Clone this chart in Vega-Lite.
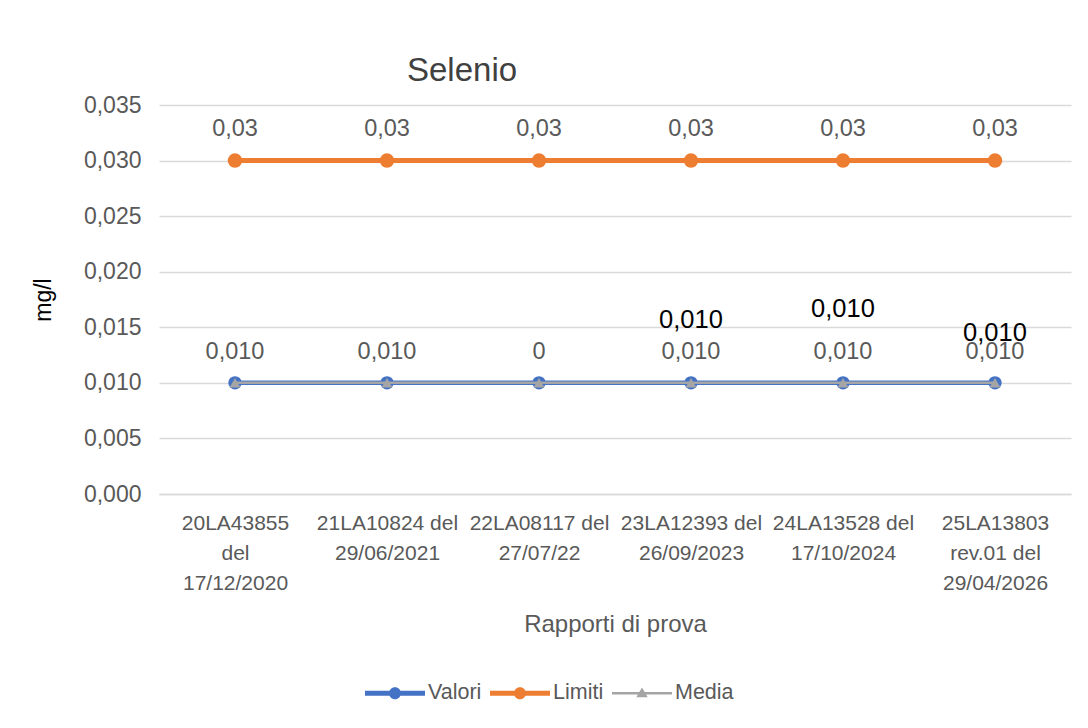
{
  "$schema": "https://vega.github.io/schema/vega-lite/v6.json",
  "width": 912,
  "height": 389,
  "autosize": "none",
  "padding": {"left": 159, "top": 105, "right": 17, "bottom": 234},
  "background": "white",
  "config": {"view": {"stroke": null}, "font": "Liberation Sans"},
  "title": {"text": "Selenio", "anchor": "start", "frame": "group", "dx": 248, "offset": 6, "fontSize": 33, "fontWeight": "normal", "color": "#404040", "font": "Liberation Sans"},
  "data": {"values": [
    {"rapporto": "20LA43855|del|17/12/2020", "serie": "Valori", "valore": 0.01, "etichetta": "0,010"},
    {"rapporto": "21LA10824 del|29/06/2021", "serie": "Valori", "valore": 0.01, "etichetta": "0,010"},
    {"rapporto": "22LA08117 del|27/07/22", "serie": "Valori", "valore": 0.01, "etichetta": "0"},
    {"rapporto": "23LA12393 del|26/09/2023", "serie": "Valori", "valore": 0.01, "etichetta": "0,010"},
    {"rapporto": "24LA13528 del|17/10/2024", "serie": "Valori", "valore": 0.01, "etichetta": "0,010"},
    {"rapporto": "25LA13803|rev.01 del|29/04/2026", "serie": "Valori", "valore": 0.01, "etichetta": "0,010"},
    {"rapporto": "20LA43855|del|17/12/2020", "serie": "Limiti", "valore": 0.03, "etichetta": "0,03"},
    {"rapporto": "21LA10824 del|29/06/2021", "serie": "Limiti", "valore": 0.03, "etichetta": "0,03"},
    {"rapporto": "22LA08117 del|27/07/22", "serie": "Limiti", "valore": 0.03, "etichetta": "0,03"},
    {"rapporto": "23LA12393 del|26/09/2023", "serie": "Limiti", "valore": 0.03, "etichetta": "0,03"},
    {"rapporto": "24LA13528 del|17/10/2024", "serie": "Limiti", "valore": 0.03, "etichetta": "0,03"},
    {"rapporto": "25LA13803|rev.01 del|29/04/2026", "serie": "Limiti", "valore": 0.03, "etichetta": "0,03"},
    {"rapporto": "20LA43855|del|17/12/2020", "serie": "Media", "valore": 0.01, "etichetta": ""},
    {"rapporto": "21LA10824 del|29/06/2021", "serie": "Media", "valore": 0.01, "etichetta": ""},
    {"rapporto": "22LA08117 del|27/07/22", "serie": "Media", "valore": 0.01, "etichetta": ""},
    {"rapporto": "23LA12393 del|26/09/2023", "serie": "Media", "valore": 0.01, "etichetta": "0,010"},
    {"rapporto": "24LA13528 del|17/10/2024", "serie": "Media", "valore": 0.01, "etichetta": "0,010"},
    {"rapporto": "25LA13803|rev.01 del|29/04/2026", "serie": "Media", "valore": 0.01, "etichetta": "0,010"}
  ]},
  "encoding": {
    "x": {
      "field": "rapporto", "type": "nominal", "sort": null,
      "axis": {
        "labelAngle": 0, "labelExpr": "split(datum.label, '|')", "labelLineHeight": 30,
        "labelFontSize": 21, "labelColor": "#595959", "labelPadding": 18, "labelLimit": 300,
        "ticks": false, "domain": true, "domainColor": "#D9D9D9", "domainWidth": 1.5,
        "title": "Rapporti di prova", "titleFontSize": 24, "titleFontWeight": "normal",
        "titleColor": "#595959", "titlePadding": 19
      }
    },
    "y": {
      "field": "valore", "type": "quantitative",
      "scale": {"domain": [0, 0.035], "nice": false, "zero": true},
      "axis": {
        "values": [0, 0.005, 0.01, 0.015, 0.02, 0.025, 0.03, 0.035],
        "labelExpr": "replace(format(datum.value, '.3f'), '.', ',')",
        "labelFontSize": 23, "labelColor": "#595959", "labelPadding": 18,
        "ticks": false, "domain": false, "grid": true, "gridColor": "#D9D9D9", "gridWidth": 1.5,
        "title": "mg/l", "titleFontSize": 23, "titleFontWeight": "normal", "titleColor": "#000000",
        "titlePadding": 28
      }
    },
    "color": {
      "field": "serie", "type": "nominal",
      "scale": {"domain": ["Valori", "Limiti", "Media"], "range": ["#4472C4", "#ED7D31", "#A5A5A5"]},
      "legend": {
        "orient": "none", "legendX": 206, "legendY": 558, "direction": "horizontal", "title": null,
        "symbolSize": 3600, "labelFontSize": 21.5, "labelColor": "#595959", "columnPadding": 8,
        "labelOffset": 3, "symbolStrokeWidth": 0,
        "encode": {"symbols": {"update": {
          "shape": {"signal": "datum.value === 'Media' ? 'M-1,-0.045L1,-0.045L1,0.045L-1,0.045Z M0,-0.19L0.19,0.13L-0.19,0.13Z' : 'M-1,-0.08L1,-0.08L1,0.08L-1,0.08Z M0.2,0A0.2,0.2 0 1,1 -0.2,0A0.2,0.2 0 1,1 0.2,0Z'"},
          "fill": {"scale": "color", "field": "value"},
          "stroke": {"value": "transparent"},
          "opacity": {"value": 1}
        }}}
      }
    }
  },
  "layer": [
    {"transform": [{"filter": "datum.serie === 'Limiti'"}], "mark": {"type": "line", "strokeWidth": 5}},
    {"transform": [{"filter": "datum.serie === 'Valori'"}], "mark": {"type": "line", "strokeWidth": 4.5}},
    {"transform": [{"filter": "datum.serie === 'Limiti'"}], "mark": {"type": "point", "shape": "circle", "filled": true, "size": 210, "opacity": 1}},
    {"transform": [{"filter": "datum.serie === 'Valori'"}], "mark": {"type": "point", "shape": "circle", "filled": true, "size": 180, "opacity": 1}},
    {"transform": [{"filter": "datum.serie === 'Media'"}], "mark": {"type": "line", "strokeWidth": 2.5}},
    {"transform": [{"filter": "datum.serie === 'Media'"}], "mark": {"type": "point", "shape": "triangle-up", "filled": true, "size": 120, "opacity": 1}},
    {"transform": [{"filter": "datum.serie === 'Limiti'"}], "mark": {"type": "text", "dy": -32, "fontSize": 23.5}, "encoding": {"text": {"field": "etichetta"}, "color": {"value": "#595959"}}},
    {"transform": [{"filter": "datum.serie === 'Valori'"}], "mark": {"type": "text", "dy": -31, "fontSize": 23.5}, "encoding": {"text": {"field": "etichetta"}, "color": {"value": "#595959"}}},
    {"transform": [{"filter": "datum.serie === 'Media' && indexof(datum.rapporto, '23LA') === 0"}], "mark": {"type": "text", "dy": -63, "fontSize": 25.5}, "encoding": {"text": {"field": "etichetta"}, "color": {"value": "#000000"}}},
    {"transform": [{"filter": "datum.serie === 'Media' && indexof(datum.rapporto, '24LA') === 0"}], "mark": {"type": "text", "dy": -74, "fontSize": 25.5}, "encoding": {"text": {"field": "etichetta"}, "color": {"value": "#000000"}}},
    {"transform": [{"filter": "datum.serie === 'Media' && indexof(datum.rapporto, '25LA') === 0"}], "mark": {"type": "text", "dy": -50, "fontSize": 25.5}, "encoding": {"text": {"field": "etichetta"}, "color": {"value": "#000000"}}}
  ]
}
